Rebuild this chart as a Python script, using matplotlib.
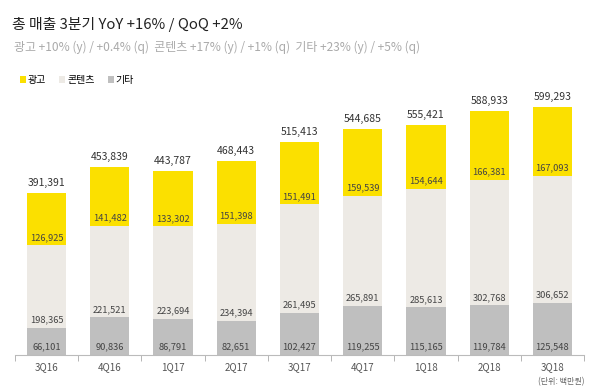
import numpy as np
import matplotlib.pyplot as plt

plt.rcParams['font.family'] = ['Noto Sans CJK KR', 'DejaVu Sans']

quarters = ['3Q16', '4Q16', '1Q17', '2Q17', '3Q17', '4Q17', '1Q18', '2Q18', '3Q18']
ads = [126925, 141482, 133302, 151398, 151491, 159539, 154644, 166381, 167093]
content = [198365, 221521, 223694, 234394, 261495, 265891, 285613, 302768, 306652]
other = [66101, 90836, 86791, 82651, 102427, 119255, 115165, 119784, 125548]
totals = [391391, 453839, 443787, 468443, 515413, 544685, 555421, 588933, 599293]

c_ads = '#FBE000'
c_content = '#EDEAE5'
c_other = '#BFBFBF'

fig = plt.figure(figsize=(6.01, 3.91), dpi=100)
ax = fig.add_axes([15 / 601, 36 / 391, 569 / 601, 265 / 391])

x = np.arange(len(quarters))
other = np.array(other)
content = np.array(content)
ads = np.array(ads)
w = 0.62

b1 = ax.bar(x, other, w, color=c_other, label='기타')
b2 = ax.bar(x, content, w, bottom=other, color=c_content, label='콘텐츠')
b3 = ax.bar(x, ads, w, bottom=other + content, color=c_ads, label='광고')

lab_kw = dict(textcoords='offset pixels', ha='center', va='center',
              fontsize=6.7, color='#444444')
for i in range(len(x)):
    ax.annotate(f'{other[i]:,}', (x[i], 0), xytext=(0, 8), **lab_kw)
    ax.annotate(f'{content[i]:,}', (x[i], other[i]), xytext=(0, 8), **lab_kw)
    ax.annotate(f'{ads[i]:,}', (x[i], other[i] + content[i]), xytext=(0, 8), **lab_kw)
    ax.annotate(f'{totals[i]:,}', (x[i], totals[i]), xytext=(0, 10),
                textcoords='offset pixels', ha='center', va='center',
                fontsize=7.5, color='#333333')

ax.set_xlim(-0.5, len(x) - 0.5)
ax.set_ylim(0, 640000)
for s in ['top', 'right', 'left']:
    ax.spines[s].set_visible(False)
ax.spines['bottom'].set_color('#BBBBBB')
ax.set_yticks([])
ax.set_xticks(x)
ax.set_xticklabels(quarters, fontsize=7, color='#555555')
ax.set_xticks(np.arange(-0.5, len(x)), minor=True)
ax.tick_params(axis='x', which='major', length=0, pad=5)
ax.tick_params(axis='x', which='minor', length=4, color='#AAAAAA')

fig.text(12 / 601, 1 - 25 / 391, '총 매출 3분기 YoY +16% / QoQ +2%',
         fontsize=10.7, color='#222222', va='center')
fig.text(14 / 601, 1 - 47 / 391,
         '광고 +10% (y) / +0.4% (q)  콘텐츠 +17% (y) / +1% (q)  기타 +23% (y) / +5% (q)',
         fontsize=8.6, color='#AAAAAA', va='center')
fig.text(584 / 601, 1 - 382 / 391, '(단위: 백만원)', fontsize=5.8, color='#666666',
         ha='right', va='center')

fig.legend(handles=[b3, b2, b1], loc='center left',
           bbox_to_anchor=(11 / 601, 1 - 80 / 391), ncol=3, frameon=False,
           fontsize=7.2, handlelength=0.6, handleheight=0.6, handletextpad=0.2,
           columnspacing=1.3)

fig.savefig('out.png', dpi=100)
